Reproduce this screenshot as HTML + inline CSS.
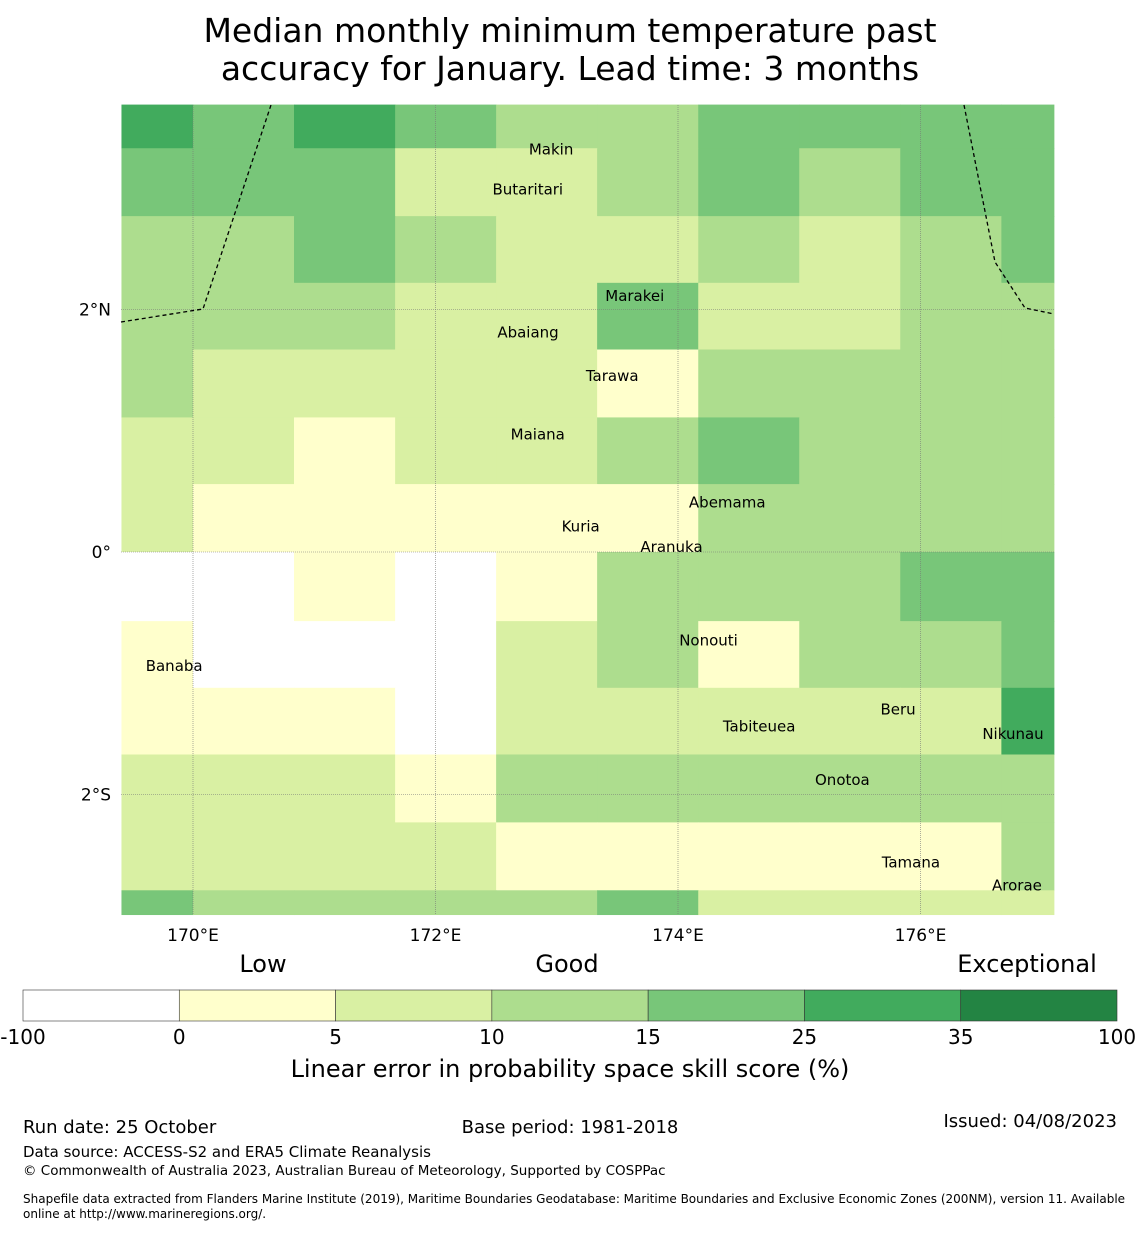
<!DOCTYPE html>
<html><head><meta charset="utf-8">
<style>
body{margin:0;background:#fff;font-family:"DejaVu Sans","Liberation Sans",sans-serif;}
svg text{font-family:"DejaVu Sans","Liberation Sans",sans-serif;}
</style></head>
<body>
<svg id="chart" width="1140" height="1230" viewBox="0 0 1140 1230" xmlns="http://www.w3.org/2000/svg">
<text x="570" y="42" font-size="33" text-anchor="middle">Median monthly minimum temperature past</text>
<text x="570" y="80" font-size="33" text-anchor="middle">accuracy for January. Lead time: 3 months</text>
<g id="cells"></g>
<g id="grid"></g>
<g id="eez" fill="none" stroke="#000" stroke-width="1.3" stroke-dasharray="4,3">
<polyline points="121,322 203,309 271,105"/>
<polyline points="964,105 995,262 1025,308 1054,314"/>
</g>
<g id="labels" font-size="15"></g>
<g id="axes" font-size="17"></g>
<g id="cbar"></g>
<text x="570" y="1077" font-size="24" text-anchor="middle">Linear error in probability space skill score (%)</text>
<text x="23" y="1133" font-size="18">Run date: 25 October</text>
<text x="570" y="1133" font-size="18" text-anchor="middle">Base period: 1981-2018</text>
<text x="1117" y="1127" font-size="18" text-anchor="end">Issued: 04/08/2023</text>
<text x="23" y="1157" font-size="15">Data source: ACCESS-S2 and ERA5 Climate Reanalysis</text>
<text x="23" y="1175" font-size="13.5">© Commonwealth of Australia 2023, Australian Bureau of Meteorology, Supported by COSPPac</text>
<text x="23" y="1203" font-size="12">Shapefile data extracted from Flanders Marine Institute (2019), Maritime Boundaries Geodatabase: Maritime Boundaries and Exclusive Economic Zones (200NM), version 11. Available</text>
<text x="23" y="1218" font-size="12">online at http://www.marineregions.org/.</text>
</svg>
<script>
const NS="http://www.w3.org/2000/svg";
const colEdges=[169.41,170.0,170.833,171.667,172.5,173.333,174.167,175.0,175.833,176.667,177.10];
const rowEdges=[3.69,3.33,2.77,2.22,1.67,1.11,0.56,0.0,-0.57,-1.12,-1.67,-2.23,-2.79,-2.99];
const binEdges=[-100,0,5,10,15,25,35,100];
const binColors=["#ffffff","#ffffcc","#d9f0a3","#addd8e","#78c679","#41ab5d","#238443"];
const skill=[
[30,20,30,20,12,12,20,20,20,20],
[20,20,20,7,7,12,20,12,20,20],
[12,12,20,12,7,7,12,7,12,20],
[12,12,12,7,7,20,7,7,12,12],
[12,7,7,7,7,2,12,12,12,12],
[7,7,2,7,7,12,20,12,12,12],
[7,2,2,2,2,2,12,12,12,12],
[-5,-5,2,-5,2,12,12,12,20,20],
[2,-5,-5,-5,7,12,2,12,12,20],
[2,2,2,-5,7,7,7,7,7,30],
[7,7,7,2,12,12,12,12,12,12],
[7,7,7,7,2,2,2,2,2,12],
[20,12,12,12,12,20,7,7,7,7]];
const lonTicks=[170,172,174,176];
const lonTickLabels=["170°E","172°E","174°E","176°E"];
const latTicks=[2,0,-2];
const latTickLabels=["2°N","0°","2°S"];
const islands=[["Makin",172.77,3.32],["Butaritari",172.47,2.99],["Marakei",173.40,2.11],["Abaiang",172.51,1.81],["Tarawa",173.24,1.45],["Maiana",172.62,0.97],["Abemama",174.09,0.41],["Kuria",173.04,0.21],["Aranuka",173.69,0.04],["Nonouti",174.01,-0.73],["Banaba",169.61,-0.94],["Tabiteuea",174.37,-1.44],["Beru",175.67,-1.30],["Nikunau",176.51,-1.50],["Onotoa",175.13,-1.88],["Tamana",175.68,-2.56],["Arorae",176.59,-2.75]];
const x=l=>193+(l-170)*121.25, y=la=>552-la*121.25;
const colorFor=v=>{for(let i=0;i<binColors.length;i++){if(v<binEdges[i+1])return binColors[i];}return binColors[binColors.length-1];};
const cells=document.getElementById('cells');
skill.forEach((row,r)=>row.forEach((v,c)=>{
 const e=document.createElementNS(NS,'rect');
 const x0=x(colEdges[c]),x1=x(colEdges[c+1]),y0=y(rowEdges[r]),y1=y(rowEdges[r+1]);
 e.setAttribute('x',x0);e.setAttribute('y',y0);e.setAttribute('width',x1-x0+0.5);e.setAttribute('height',y1-y0+0.5);
 e.setAttribute('fill',colorFor(v));
 
 
 cells.appendChild(e);
}));
const grid=document.getElementById('grid'),axes=document.getElementById('axes');
lonTicks.forEach((l,i)=>{
 const g=document.createElementNS(NS,'line');
 g.setAttribute('x1',x(l));g.setAttribute('x2',x(l));g.setAttribute('y1',105);g.setAttribute('y2',915);
 g.setAttribute('stroke','#777');g.setAttribute('stroke-width','0.6');g.setAttribute('stroke-dasharray','1,1');
 
 
 grid.appendChild(g);
 const t=document.createElementNS(NS,'text');
 t.setAttribute('x',x(l));t.setAttribute('y',941);t.setAttribute('text-anchor','middle');t.textContent=lonTickLabels[i];
 
 
 axes.appendChild(t);
});
latTicks.forEach((la,i)=>{
 const g=document.createElementNS(NS,'line');
 g.setAttribute('x1',121);g.setAttribute('x2',1054);g.setAttribute('y1',y(la));g.setAttribute('y2',y(la));
 g.setAttribute('stroke','#777');g.setAttribute('stroke-width','0.6');g.setAttribute('stroke-dasharray','1,1');
 
 
 grid.appendChild(g);
 const t=document.createElementNS(NS,'text');
 t.setAttribute('x',111);t.setAttribute('y',y(la)+6);t.setAttribute('text-anchor','end');t.textContent=latTickLabels[i];
 
 
 axes.appendChild(t);
});
const labels=document.getElementById('labels');
islands.forEach(d=>{
 const t=document.createElementNS(NS,'text');
 t.setAttribute('x',x(d[1]));t.setAttribute('y',y(d[2])+5);t.setAttribute('text-anchor','start');t.textContent=d[0];
 
 
 labels.appendChild(t);
});
const cbar=document.getElementById('cbar');
const cbX0=23,cbW=1094,seg=cbW/binColors.length;
binColors.forEach((c,i)=>{
 const r=document.createElementNS(NS,'rect');
 r.setAttribute('x',cbX0+i*seg);r.setAttribute('y',990);r.setAttribute('width',seg);r.setAttribute('height',31);
 r.setAttribute('fill',c);r.setAttribute('stroke','#333');r.setAttribute('stroke-width','0.6');
 
 
 cbar.appendChild(r);
});
binEdges.forEach((b,i)=>{
 const t=document.createElementNS(NS,'text');
 t.setAttribute('x',cbX0+i*seg);t.setAttribute('y',1044);t.setAttribute('text-anchor','middle');t.setAttribute('font-size','20');t.textContent=b;
 
 
 cbar.appendChild(t);
});
[["Low",263],["Good",567],["Exceptional",1027]].forEach(d=>{
 const t=document.createElementNS(NS,'text');
 t.setAttribute('x',d[1]);t.setAttribute('y',972);t.setAttribute('text-anchor','middle');t.setAttribute('font-size','24');t.textContent=d[0];
 
 
 cbar.appendChild(t);
});
</script>
</body></html>
